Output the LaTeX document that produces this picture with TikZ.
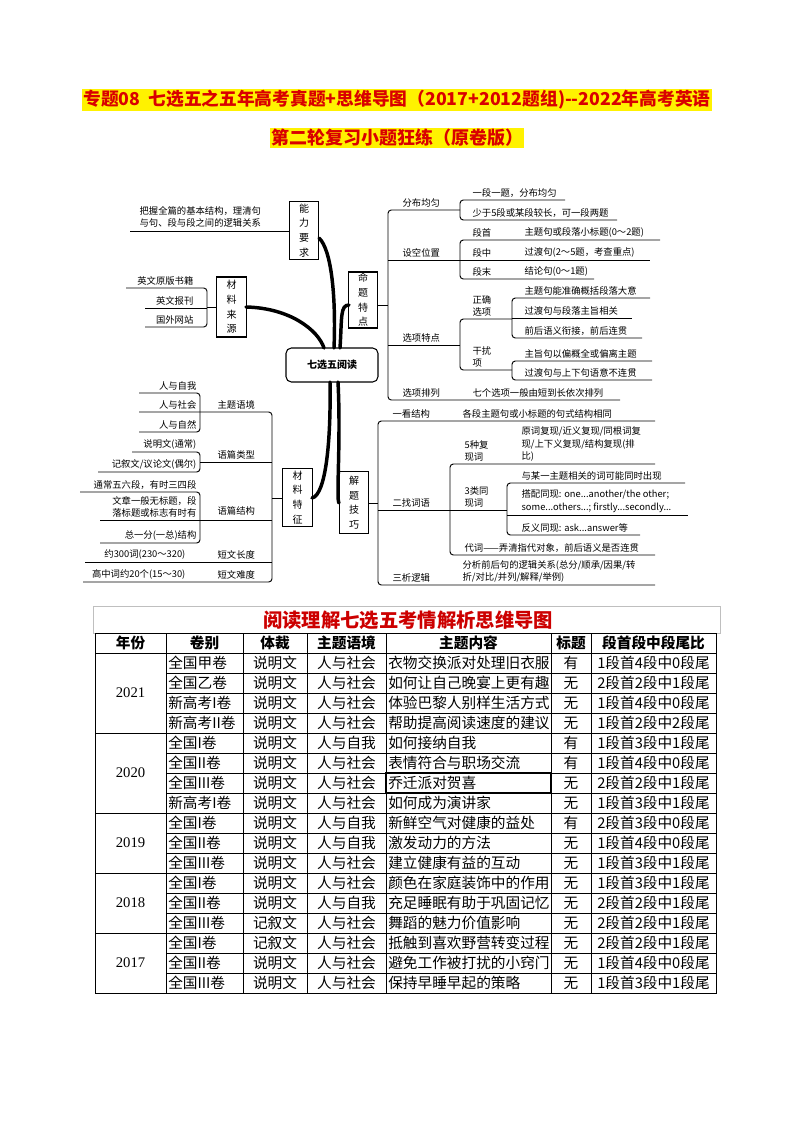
\documentclass[tikz,border=0pt]{standalone}
\usepackage{fontspec}
\setmainfont{Noto Sans CJK SC}
\newfontfamily\tms{Liberation Serif}
\begin{document}
\begin{tikzpicture}[x=0.75pt,y=-0.75pt,
  mm/.style={font=\fontsize{7}{9.3}\selectfont,inner sep=1pt,align=left},
  tl/.style={mm,anchor=south west},
  tr/.style={mm,anchor=south east},
  ln/.style={line width=0.7pt},
  br/.style={line width=0.7pt,rounded corners=2.5pt},
  vbox/.style={draw,line width=0.8pt,minimum width=22pt,font=\fontsize{7.5}{11}\selectfont,align=center,inner sep=1pt},
  twig/.style={line width=2.6pt,line cap=round},
  tc/.style={font=\fontsize{11}{12}\selectfont,inner sep=0pt},
  th/.style={font=\fontsize{11}{12}\selectfont\bfseries,inner sep=0pt},
  gl/.style={line width=0.6pt}]
\useasboundingbox (0,0) rectangle (794,1123);
% title
\node[fill=yellow,inner sep=1pt,text=red!85!black,font=\fontsize{13.3}{16}\selectfont\bfseries] (t1) at (397,100) {专题08\ \ 七选五之五年高考真题+思维导图（2017+2012题组)-{}-2022年高考英语};
\node[fill=yellow,inner sep=1pt,text=red!85!black,font=\fontsize{13.5}{16}\selectfont\bfseries] (t2) at (397,138) {第二轮复习小题狂练（原卷版）};

% ---------- mind map ----------
\node[draw,line width=0.8pt,rounded corners=4pt,minimum width=69pt,minimum height=25.5pt,font=\fontsize{7.5}{9}\selectfont\bfseries] (ctr) at (332,365) {七选五阅读};
\node[vbox,minimum height=44pt] (nl) at (304,230.5) {能\\力\\要\\求};
\node[vbox,minimum height=45pt] (cl) at (231.5,307) {材\\料\\来\\源};
\node[vbox,minimum height=44pt] (tz) at (297.5,497.5) {材\\料\\特\\征};
\node[vbox,minimum height=38pt] (mt) at (363,300) {命\\题\\特\\点};
\node[vbox,minimum height=46pt] (jt) at (354,502.5) {解\\题\\技\\巧};

\draw[twig] (334,348) .. controls (336,300) and (332,250) .. (319,238);
\draw[twig] (246,307) .. controls (290,308) and (318,330) .. (324,348);
\draw[twig] (340,348) .. controls (342,318) and (340,305) .. (349,305);
\draw[twig] (330,382) .. controls (331,440) and (326,495) .. (312,498);
\draw[twig] (338,382) .. controls (341,440) and (336,500) .. (339,503);

% 能力要求
\draw[ln] (nl.west |- 0,231) -- (130,231);
\node[tl] (nla) at (138,229) {把握全篇的基本结构，理清句\\与句、段与段之间的逻辑关系};
% 材料来源
\draw[br] (126,288) -- (207,288) -- (207,327) -- (145,327);
\draw[ln] (145,308) -- (207,308);
\draw[ln] (207,307) -- (cl.west |- 0,307);
\node[tr] (c1) at (195,287) {英文原版书籍};
\node[tr] (c2) at (195,307) {英文报刊};
\node[tr] (c3) at (195,326) {国外网站};
% 材料特征
\draw[br] (139,412) -- (272,412) -- (272,582) -- (83,582);
\draw[ln] (272,498) -- (tz.west |- 0,498);
\draw[br] (139,393) -- (200,393) -- (200,432) -- (139,432);
\node[tr] (s1) at (198,392) {人与自我};
\node[tr] (s2) at (198,411) {人与社会};
\node[tr] (s3) at (198,431) {人与自然};
\node[tl] (k1) at (216,411) {主题语境};
\draw[br] (132,452) -- (200,452) -- (200,472) -- (98,472);
\draw[ln] (200,462) -- (272,462);
\node[tr] (s4) at (198,451) {说明文(通常)};
\node[tr] (s5) at (198,471) {记叙文/议论文(偶尔)};
\node[tl] (k2) at (216,461) {语篇类型};
\draw[br] (80,492) -- (200,492) -- (200,543) -- (100,543);
\draw[ln] (100,520) -- (272,520);
\node[tr] (s6) at (198,491) {通常五六段，有时三四段};
\node[tr,align=left] (s7) at (198,519) {文章一般无标题，段\\落标题或标志有时有};
\node[tr] (s8) at (198,542) {总一分(一总)结构};
\node[tl] (k3) at (216,517) {语篇结构};
\draw[ln] (85,562) -- (272,562);
\node[tr] (s9) at (187,561) {约300词(230～320)};
\node[tl] (k4) at (216,561) {短文长度};
\node[tr] (s10) at (187,581) {高中词约20个(15～30)};
\node[tl] (k5) at (216,581) {短文难度};

% 命题特点
\draw[br] (460,210) -- (388,210) -- (388,400) -- (620,400);
\draw[ln] (mt.east |- 0,305) -- (388,305);
\node[tl] (m1) at (401,209) {分布均匀};
\draw[br] (565,200) -- (460,200) -- (460,220) -- (617,220);
\node[tl] (m1a) at (471,199) {一段一题，分布均匀};
\node[tl] (m1b) at (471,219) {少于5段或某段较长，可一段两题};
\node[tl] (m2) at (401,259) {设空位置};
\draw[ln] (388,260) -- (650,260);
\draw[br] (660,240) -- (460,240) -- (460,279) -- (594,279);
\node[tl] (m2a) at (471,239) {段首};
\node[tl] (m2b) at (471,259) {段中};
\node[tl] (m2c) at (471,278) {段末};
\node[tl] (m2d) at (523,239) {主题句或段落小标题(0～2题)};
\node[tl] (m2e) at (523,259) {过渡句(2～5题，考查重点)};
\node[tl] (m2f) at (523,278) {结论句(0～1题)};
\node[tl] (m3) at (401,344) {选项特点};
\draw[ln] (388,345) -- (460,345);
\draw[br] (512,319) -- (460,319) -- (460,370) -- (512,370);
\node[tl] (m3a) at (471,318) {正确\\选项};
\node[tl] (m3b) at (471,369) {干扰\\项};
\draw[br] (650,298) -- (512,298) -- (512,338) -- (642,338);
\draw[ln] (512,318) -- (632,318);
\node[tl] (m3c) at (523,297) {主题句能准确概括段落大意};
\node[tl] (m3d) at (523,317) {过渡句与段落主旨相关};
\node[tl] (m3e) at (523,337) {前后语义衔接，前后连贯};
\draw[br] (652,361) -- (512,361) -- (512,380) -- (652,380);
\node[tl] (m3f) at (523,360) {主旨句以偏概全或偏离主题};
\node[tl] (m3g) at (523,379) {过渡句与上下句语意不连贯};
\node[tl] (m4) at (401,399) {选项排列};
\node[tl] (m4a) at (471,399) {七个选项一般由短到长依次排列};

% 解题技巧
\draw[br] (655,421) -- (378,421) -- (378,585) -- (655,585);
\draw[ln] (jt.east |- 0,503) -- (378,503);
\node[tl] (j1) at (391,420) {一看结构};
\node[tl] (j1a) at (461,420) {各段主题句或小标题的句式结构相同};
\node[tl] (j2) at (391,509) {二找词语};
\draw[ln] (378,510) -- (507,510);
\draw[br] (655,464) -- (450,464) -- (450,555) -- (655,555);
\node[tl] (j2a) at (463,463) {5种复\\现词};
\node[tl] (j2b) at (520,463) {原词复现/近义复现/同根词复\\现/上下义复现/结构复现(排\\比)};
\node[tl] (j2c) at (463,509) {3类同\\现词};
\draw[br] (685,483) -- (507,483) -- (507,535) -- (640,535);
\draw[ln] (507,515) -- (688,515);
\node[tl] (j2d) at (520,482) {与某一主题相关的词可能同时出现};
\node[tl] (j2e) at (520,514) {搭配同现: one...another/the other;\\some...others...; firstly...secondly...};
\node[tl] (j2f) at (520,534) {反义同现: ask...answer等};
\node[tl] (j2g) at (463,554) {代词——弄清指代对象，前后语义是否连贯};
\node[tl] (j3) at (391,584) {三析逻辑};
\node[tl] (j3a) at (461,584) {分析前后句的逻辑关系(总分/顺承/因果/转\\折/对比/并列/解释/举例)};

% ---------- table ----------
\draw[gray!50,line width=0.5pt] (93,606) rectangle (720,633);
\node[text=red!80!black,font=\fontsize{14.5}{16}\selectfont\bfseries,inner sep=0pt] (tt) at (408,620) {阅读理解七选五考情解析思维导图};
\draw[gl] (95,633) rectangle (716,993);
\foreach \x in {166,243,307,386,551,591} \draw[gl] (\x,633) -- (\x,993);
\draw[gl] (95,653) -- (716,653);
\foreach \y in {733,813,873,933} \draw[gl] (95,\y) -- (716,\y);
\foreach \i in {1,...,16} \draw[gl] (166,653+20*\i) -- (716,653+20*\i);
\draw[line width=1pt] (386,773) rectangle (551,793);
\node[th] (h1) at (130.5,643) {年份};
\node[th] (h2) at (204.5,643) {卷别};
\node[th] (h3) at (275,643) {体裁};
\node[th] (h4) at (346.5,643) {主题语境};
\node[th] (h5) at (468.5,643) {主题内容};
\node[th] (h6) at (571,643) {标题};
\node[th] (h7) at (653.5,643) {段首段中段尾比};
\node[tc,font=\fontsize{11}{12}\selectfont\tms] (y1) at (130.5,693) {2021};
\node[tc,font=\fontsize{11}{12}\selectfont\tms] (y2) at (130.5,773) {2020};
\node[tc,font=\fontsize{11}{12}\selectfont\tms] (y3) at (130.5,843) {2019};
\node[tc,font=\fontsize{11}{12}\selectfont\tms] (y4) at (130.5,903) {2018};
\node[tc,font=\fontsize{11}{12}\selectfont\tms] (y5) at (130.5,963) {2017};
\foreach \i/\a/\b/\c/\d/\e/\f in {
0/全国甲卷/说明文/人与社会/衣物交换派对处理旧衣服/有/1段首4段中0段尾,
1/全国乙卷/说明文/人与社会/如何让自己晚宴上更有趣/无/2段首2段中1段尾,
2/新高考I卷/说明文/人与社会/体验巴黎人别样生活方式/无/1段首4段中0段尾,
3/新高考II卷/说明文/人与社会/帮助提高阅读速度的建议/无/1段首2段中2段尾,
4/全国I卷/说明文/人与自我/如何接纳自我/有/1段首3段中1段尾,
5/全国II卷/说明文/人与社会/表情符合与职场交流/有/1段首4段中0段尾,
6/全国III卷/说明文/人与社会/乔迁派对贺喜/无/2段首2段中1段尾,
7/新高考I卷/说明文/人与社会/如何成为演讲家/无/1段首3段中1段尾,
8/全国I卷/说明文/人与自我/新鲜空气对健康的益处/有/2段首3段中0段尾,
9/全国II卷/说明文/人与自我/激发动力的方法/无/1段首4段中0段尾,
10/全国III卷/说明文/人与社会/建立健康有益的互动/无/1段首3段中1段尾,
11/全国I卷/说明文/人与社会/颜色在家庭装饰中的作用/无/1段首3段中1段尾,
12/全国II卷/说明文/人与自我/充足睡眠有助于巩固记忆/无/2段首2段中1段尾,
13/全国III卷/记叙文/人与社会/舞蹈的魅力价值影响/无/2段首2段中1段尾,
14/全国I卷/记叙文/人与社会/抵触到喜欢野营转变过程/无/2段首2段中1段尾,
15/全国II卷/说明文/人与社会/避免工作被打扰的小窍门/无/1段首4段中0段尾,
16/全国III卷/说明文/人与社会/保持早睡早起的策略/无/1段首3段中1段尾}{
  \node[tc,anchor=west] at (168,663+20*\i) {\a};
  \node[tc] at (275,663+20*\i) {\b};
  \node[tc] at (346.5,663+20*\i) {\c};
  \node[tc,anchor=west] at (388,663+20*\i) {\d};
  \node[tc] at (571,663+20*\i) {\e};
  \node[tc] at (653.5,663+20*\i) {\f};
}
\end{tikzpicture}
\end{document}
